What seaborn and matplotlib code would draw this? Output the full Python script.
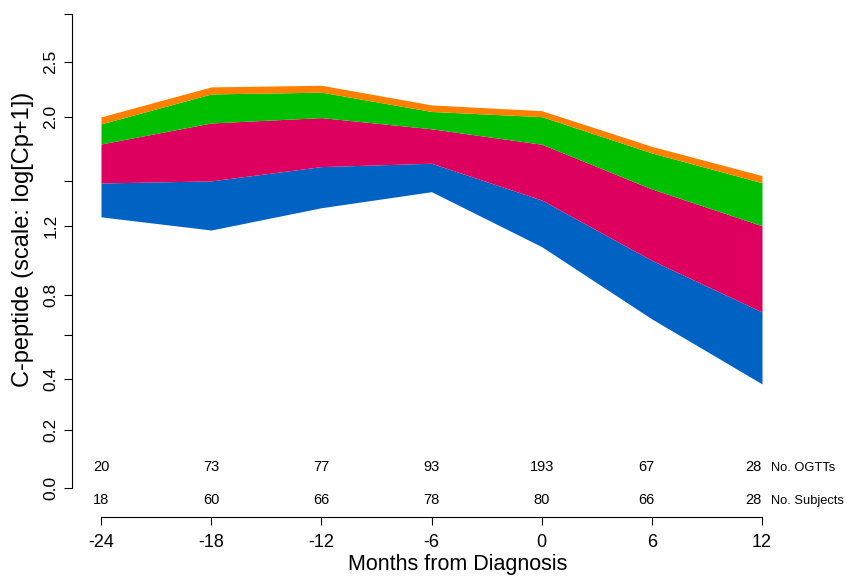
import numpy as np
import pandas as pd
import matplotlib
matplotlib.use("Agg")
import matplotlib.pyplot as plt
import matplotlib.transforms as mtransforms
import seaborn as sns

# Months relative to diagnosis
months = [-24, -18, -12, -6, 0, 6, 12]

# Band boundaries of C-peptide (Cp units), bottom to top
band_floor = [1.257, 1.173, 1.317, 1.426, 1.071, 0.676, 0.380]
band_blue_top = [1.487, 1.502, 1.606, 1.631, 1.369, 0.990, 0.711]
band_pink_top = [1.779, 1.949, 1.994, 1.901, 1.777, 1.445, 1.200]
band_green_top = [1.941, 2.200, 2.216, 2.046, 2.002, 1.709, 1.489]
band_orange_top = [2.000, 2.264, 2.279, 2.103, 2.053, 1.760, 1.540]

# Sample sizes per visit
n_ogtts = [20, 73, 77, 93, 193, 67, 28]
n_subjects = [18, 60, 66, 78, 80, 66, 28]
count_x = [-24, -18, -12, -6, 0, 5.7, 11.55]

y_ticks = [0.0, 0.2, 0.4, 0.6, 0.8, 1.2, 1.5, 2.0, 2.5, 3.0]
y_tick_labels = ["0.0", "0.2", "0.4", "", "0.8", "1.2", "", "2.0", "2.5", ""]

df = pd.DataFrame({
    "month": months,
    "floor": band_floor,
    "blue": band_blue_top,
    "pink": band_pink_top,
    "green": band_green_top,
    "orange": band_orange_top,
})

sns.set_style("ticks")
plt.rcParams["font.family"] = ["Liberation Sans", "DejaVu Sans"]
for key in ("text.color", "axes.labelcolor", "xtick.color", "ytick.color",
            "axes.edgecolor"):
    plt.rcParams[key] = "black"

fig = plt.figure(figsize=(8.47, 5.77), dpi=100)
ax = fig.add_axes([101 / 847, 89 / 577, 661 / 847, 474 / 577])

# log-type compression of the C-peptide axis
def fwd(y):
    return np.log1p(np.asarray(y, dtype=float) / 1.2)

def inv(t):
    return 1.2 * np.expm1(np.asarray(t, dtype=float))

ax.set_yscale("function", functions=(fwd, inv))

palette = {"blue": "#0062C3", "pink": "#DE005F", "green": "#00BF00", "orange": "#FF8000"}
layers = [("floor", "blue"), ("blue", "pink"), ("pink", "green"), ("green", "orange")]
for lo, hi in layers:
    ax.fill_between(df["month"], df[lo], df[hi], color=palette[hi], linewidth=0)

ax.set_xlim(-24, 12)
ax.set_ylim(0, 3.0)
ax.set_xticks(months)
ax.set_yticks(y_ticks)
ax.minorticks_off()

sns.despine(ax=ax, offset=20.9, trim=True)
for side in ("left", "bottom"):
    ax.spines[side].set_linewidth(0.8)
    ax.spines[side].set_color("black")

ax.set_xticks(months)
ax.set_xticklabels([str(m) for m in months])
ax.set_yticks(y_ticks)
ax.set_yticklabels(y_tick_labels, rotation=90, va="center")

ax.tick_params(axis="x", direction="out", length=5.8, width=0.8, color="black",
               labelsize=13, pad=6.5)
ax.tick_params(axis="y", direction="out", length=5.8, width=0.8, color="black",
               labelsize=12.5, pad=4.0, labelrotation=90)

ax.set_xlabel("Months from Diagnosis", fontsize=15.5)
ax.xaxis.set_label_coords(0.54, -0.140)
ax.set_ylabel("C-peptide (scale: log[Cp+1])", fontsize=17)
ax.yaxis.set_label_coords(-0.102, 0.525)

# Sample size rows under the bands
trans = mtransforms.blended_transform_factory(ax.transData, ax.transAxes)
for x, n1, n2 in zip(count_x, n_ogtts, n_subjects):
    ax.text(x, 0.0365, str(n1), transform=trans, ha="center", va="baseline",
            fontsize=10.5, clip_on=False)
    ax.text(x, -0.0338, str(n2), transform=trans, ha="center", va="baseline",
            fontsize=10.5, clip_on=False)
ax.text(12.49, 0.0365, "No. OGTTs", transform=trans, ha="left", va="baseline",
        fontsize=9.3, clip_on=False)
ax.text(12.49, -0.0338, "No. Subjects", transform=trans, ha="left", va="baseline",
        fontsize=9.3, clip_on=False)

fig.savefig("out.png", dpi=100)
